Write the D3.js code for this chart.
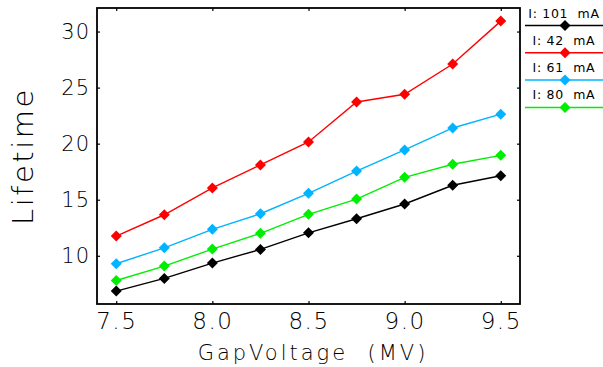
<!DOCTYPE html>
<html>
<head>
<meta charset="utf-8">
<script src="https://cdn.jsdelivr.net/npm/d3@7"></script>
<style>
  html, body { margin: 0; padding: 0; background: #fff; }
  svg { display: block; }
  text { font-family: "DejaVu Sans", sans-serif; font-weight: 200; fill: #000; }
  text.leg { font-weight: 400; }
</style>
</head>
<body>
<svg id="chart" width="603" height="367"></svg>
<script>
const voltages = [7.5, 7.75, 8.0, 8.25, 8.5, 8.75, 9.0, 9.25, 9.5];
const seriesNames = ["I: 101  mA", "I: 42  mA", "I: 61  mA", "I: 80  mA"];
const seriesColors = ["#000000", "#ff0000", "#00b4ff", "#00ee00"];
const lifetime101 = [6.85, 7.98, 9.35, 10.57, 12.05, 13.3, 14.62, 16.29, 17.14];
const lifetime42 = [11.76, 13.66, 16.05, 18.1, 20.15, 23.72, 24.41, 27.1, 30.93];
const lifetime61 = [9.29, 10.71, 12.36, 13.75, 15.57, 17.56, 19.44, 21.4, 22.63];
const lifetime80 = [7.8, 9.08, 10.6, 12.0, 13.7, 15.06, 17.0, 18.16, 18.96];
const xTicks = [7.5, 8.0, 8.5, 9.0, 9.5];
const yTicks = [10, 15, 20, 25, 30];
const xTitle = "GapVoltage  (MV)";
const yTitle = "Lifetime";

const seriesValues = [lifetime101, lifetime42, lifetime61, lifetime80];

const svg = d3.select("#chart");
const L = 97, R = 520, T = 8, B = 304;
const x = d3.scaleLinear().domain([7.4, 9.6]).range([L, R]);
const y = d3.scaleLinear().domain([5.7, 32.1]).range([B, T]);

// axes (ticks inward)
const axBottom = svg.append("g").attr("transform", `translate(0,${B})`)
  .call(d3.axisBottom(x).tickValues(xTicks).tickFormat(d3.format(".1f")).tickSizeInner(-3).tickSizeOuter(0).tickPadding(9));
const axTop = svg.append("g").attr("transform", `translate(0,${T})`)
  .call(d3.axisTop(x).tickValues(xTicks).tickFormat("").tickSizeInner(-3).tickSizeOuter(0));
const axLeft = svg.append("g").attr("transform", `translate(${L},0)`)
  .call(d3.axisLeft(y).tickValues(yTicks).tickFormat(d3.format("d")).tickSizeInner(-3).tickSizeOuter(0).tickPadding(7));
const axRight = svg.append("g").attr("transform", `translate(${R},0)`)
  .call(d3.axisRight(y).tickValues(yTicks).tickFormat("").tickSizeInner(-3).tickSizeOuter(0));
[axBottom, axTop, axLeft, axRight].forEach(g => {
  g.select(".domain").remove();
  g.selectAll(".tick line").attr("stroke", "#000").attr("stroke-width", 1.2);
});
axBottom.selectAll("text").attr("font-size", 23).attr("letter-spacing", 1.5)
  .style("font-family", '"DejaVu Sans", sans-serif').attr("fill", "#000");
axLeft.selectAll("text").attr("font-size", 21).attr("letter-spacing", 1)
  .style("font-family", '"DejaVu Sans", sans-serif').attr("fill", "#000");

// frame
svg.append("rect").attr("x", L).attr("y", T).attr("width", R - L).attr("height", B - T)
  .attr("fill", "none").attr("stroke", "#000").attr("stroke-width", 1.8);

// titles
svg.append("text").attr("x", 313).attr("y", 360).attr("text-anchor", "middle")
  .attr("font-size", 21).attr("letter-spacing", 3).style("white-space", "pre").text(xTitle);
svg.append("text").attr("transform", "translate(33,156) rotate(-90)").attr("text-anchor", "middle")
  .attr("font-size", 29).attr("letter-spacing", 2.5).text(yTitle);

// diamonds
function diamond(cx, cy, r) {
  return `M${cx},${cy - r}L${cx + r},${cy}L${cx},${cy + r}L${cx - r},${cy}Z`;
}

// series
const line = d3.line().x((d, i) => x(voltages[i])).y(d => y(d));
seriesValues.forEach((vals, si) => {
  const g = svg.append("g");
  g.append("path").datum(vals).attr("d", line).attr("fill", "none")
    .attr("stroke", seriesColors[si]).attr("stroke-width", 1.4);
  g.selectAll("path.m").data(vals).join("path").attr("class", "m")
    .attr("d", (d, i) => diamond(x(voltages[i]), y(d), 5.5))
    .attr("fill", seriesColors[si]);
});

// legend
const legY0 = 25.5, legDy = 27.3;
seriesNames.forEach((name, si) => {
  const ly = legY0 + si * legDy;
  svg.append("text").attr("class", "leg").attr("x", 564).attr("y", ly - 8).attr("text-anchor", "middle")
    .attr("font-size", 12.5).attr("letter-spacing", 0.7)
    .style("white-space", "pre").text(name);
  svg.append("line").attr("x1", 525).attr("x2", 603).attr("y1", ly).attr("y2", ly)
    .attr("stroke", seriesColors[si]).attr("stroke-width", 1.5);
  svg.append("path").attr("d", diamond(565, ly, 5.5)).attr("fill", seriesColors[si]);
});
</script>
</body>
</html>
